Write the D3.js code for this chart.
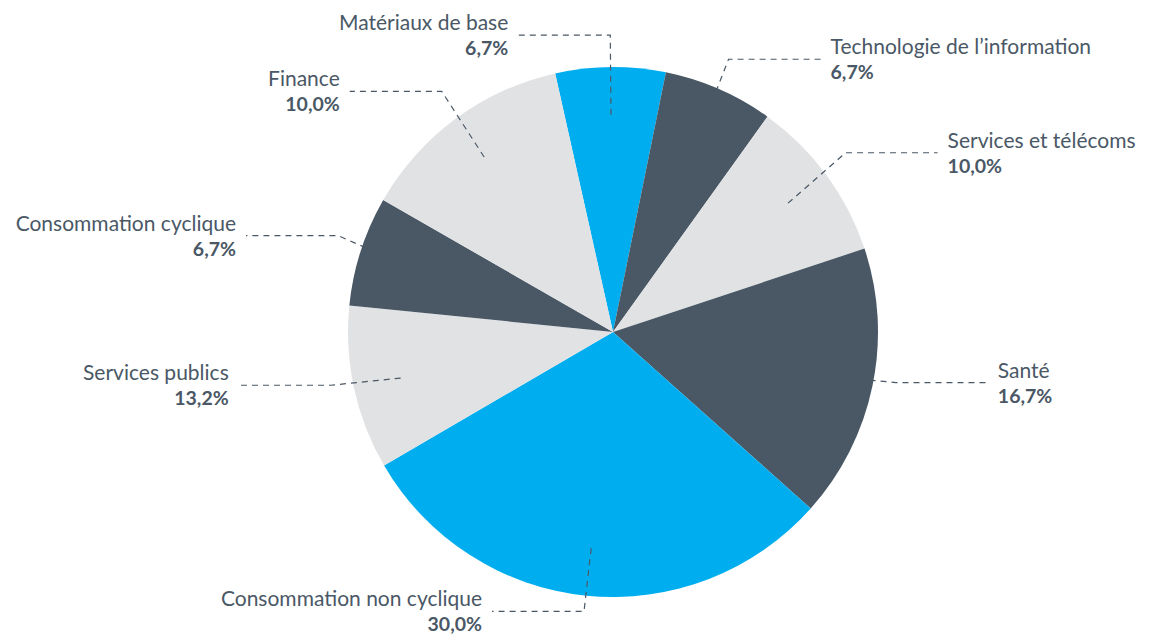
<!DOCTYPE html>
<html>
<head>
<meta charset="utf-8">
<script src="https://cdn.jsdelivr.net/npm/d3@7"></script>
<style>
  body { margin: 0; background: #fff; }
  text { font-family: Lato, "Open Sans", sans-serif; fill: #4a5866; }
</style>
</head>
<body>
<svg id="pie-chart" width="1161" height="637"></svg>
<script>
// sectors, clockwise from the top
const categories = [
  "Matériaux de base",
  "Technologie de l’information",
  "Services et télécoms",
  "Santé",
  "Consommation non cyclique",
  "Services publics",
  "Consommation cyclique",
  "Finance"
];
// slice sizes as drawn
const shares = [6.7, 6.7, 10.0, 16.7, 30.0, 10.0, 6.7, 13.2];
// percentages as printed on the labels
const pctLabels = ["6,7%", "6,7%", "10,0%", "16,7%", "30,0%", "13,2%", "6,7%", "10,0%"];
const sliceColors = ["#00aeef", "#4a5866", "#e1e2e4", "#4a5866", "#00aeef", "#e1e2e4", "#4a5866", "#e1e2e4"];

const width = 1161, height = 637;
const cx = 613, cy = 332, radius = 265;

const svg = d3.select("#pie-chart");
const g = svg.append("g").attr("transform", `translate(${cx}, ${cy})`);

const pie = d3.pie()
  .sort(null)
  .value(d => d)
  .startAngle(-12.6 * Math.PI / 180)
  .endAngle((360 - 12.6) * Math.PI / 180);

const arcs = pie(shares);

const arc = d3.arc().innerRadius(0).outerRadius(radius);

g.selectAll("path.slice")
  .data(arcs)
  .join("path")
  .attr("class", "slice")
  .attr("fill", (d, i) => sliceColors[i])
  .attr("d", arc);

// leader lines + labels
const innerArc = d3.arc().innerRadius(radius * 0.82).outerRadius(radius * 0.82);
const elbowArc = d3.arc().innerRadius(radius * 1.09).outerRadius(radius * 1.09);
const lineLen = 92;

arcs.forEach((d, i) => {
  const p0 = innerArc.centroid(d);
  const p1 = elbowArc.centroid(d);
  p1[1] = Math.max(-cy + 30, Math.min(height - cy - 25, p1[1] - 8));
  const mid = (d.startAngle + d.endAngle) / 2;
  const right = Math.sin(mid) > 0;
  const p2 = [p1[0] + (right ? lineLen : -lineLen), p1[1]];

  g.append("polyline")
    .attr("points", [p0, p1, p2].map(p => p.join(",")).join(" "))
    .attr("fill", "none")
    .attr("stroke", "#4a5866")
    .attr("stroke-width", 1.2)
    .attr("stroke-dasharray", "6,5");

  const tx = p2[0] + (right ? 10 : -10);
  const anchor = right ? "start" : "end";

  g.append("text")
    .attr("x", tx)
    .attr("y", p2[1] - 5)
    .attr("text-anchor", anchor)
    .attr("font-size", 21)
    .text(categories[i]);

  g.append("text")
    .attr("x", tx)
    .attr("y", p2[1] + 20)
    .attr("text-anchor", anchor)
    .attr("font-size", 19.5)
    .attr("font-weight", "bold")
    .text(pctLabels[i]);
});
</script>
</body>
</html>
